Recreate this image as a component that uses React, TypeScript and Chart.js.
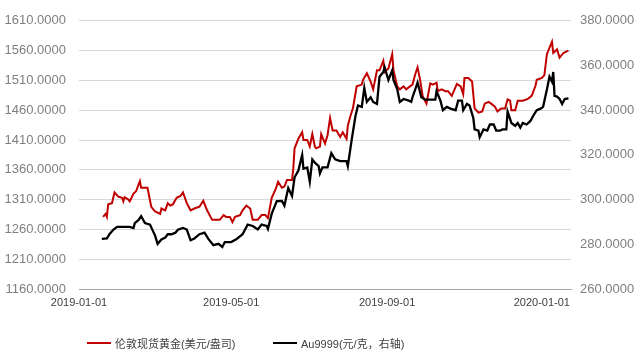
import React, { useEffect, useRef } from "react";
import { Chart, registerables } from "chart.js";

Chart.register(...registerables);

// ---- data ----
const redLabel = "伦敦现货黄金(美元/盎司)";
const blackLabel = "Au9999(元/克，右轴)";

const redDates = [
  "2019-01-20","2019-01-22","2019-01-23","2019-01-24","2019-01-27","2019-01-29","2019-02-01","2019-02-04","2019-02-05","2019-02-06",
  "2019-02-09","2019-02-10","2019-02-13","2019-02-15","2019-02-18","2019-02-19","2019-02-21","2019-02-24","2019-02-27","2019-03-02",
  "2019-03-06","2019-03-07","2019-03-10","2019-03-12","2019-03-14","2019-03-16","2019-03-19","2019-03-22","2019-03-24","2019-03-27",
  "2019-03-30","2019-04-02","2019-04-06","2019-04-09","2019-04-12","2019-04-16","2019-04-22","2019-04-25","2019-04-27","2019-04-30",
  "2019-05-02","2019-05-04","2019-05-08","2019-05-10","2019-05-13","2019-05-16","2019-05-18","2019-05-22","2019-05-25","2019-05-28",
  "2019-05-30","2019-06-02","2019-06-05","2019-06-07","2019-06-10","2019-06-12","2019-06-14","2019-06-18","2019-06-19","2019-06-20",
  "2019-06-23","2019-06-26","2019-06-27","2019-06-30","2019-07-02","2019-07-04","2019-07-06","2019-07-07","2019-07-10","2019-07-11",
  "2019-07-14","2019-07-16","2019-07-18","2019-07-20","2019-07-23","2019-07-26","2019-07-28","2019-07-31","2019-08-01","2019-08-03",
  "2019-08-05","2019-08-08","2019-08-12","2019-08-13","2019-08-16","2019-08-19","2019-08-21","2019-08-24","2019-08-26","2019-08-29",
  "2019-08-30","2019-09-02","2019-09-05","2019-09-06","2019-09-09","2019-09-11","2019-09-14","2019-09-16","2019-09-19","2019-09-21",
  "2019-09-23","2019-09-25","2019-09-27","2019-09-29","2019-10-02","2019-10-05","2019-10-07","2019-10-10","2019-10-11","2019-10-14",
  "2019-10-17","2019-10-19","2019-10-22","2019-10-26","2019-10-29","2019-10-31","2019-11-01","2019-11-04","2019-11-07","2019-11-09",
  "2019-11-12","2019-11-15","2019-11-17","2019-11-20","2019-11-22","2019-11-25","2019-11-27","2019-11-30","2019-12-03","2019-12-05",
  "2019-12-07","2019-12-08","2019-12-11","2019-12-13","2019-12-17","2019-12-21","2019-12-24","2019-12-27","2019-12-28","2020-01-01",
  "2020-01-03","2020-01-05","2020-01-09","2020-01-10","2020-01-13","2020-01-15","2020-01-18","2020-01-21","2020-01-22",
];
const redValues = [
  1281,1286,1281,1302,1304,1322,1315,1313,1307,1314,
  1310,1307,1320,1324,1341,1330,1330,1330,1298,1290,
  1286,1295,1292,1304,1300,1302,1313,1316,1322,1304,
  1292,1295,1298,1308,1292,1276,1276,1284,1281,1281,
  1272,1281,1284,1292,1300,1295,1276,1276,1284,1284,
  1279,1313,1327,1340,1330,1332,1343,1343,1362,1396,
  1412,1423,1410,1410,1399,1420,1399,1396,1399,1420,
  1404,1418,1447,1426,1426,1415,1423,1412,1434,1450,
  1463,1500,1503,1511,1522,1508,1495,1527,1527,1543,
  1524,1530,1554,1527,1500,1495,1500,1495,1500,1503,
  1519,1532,1511,1484,1471,1505,1503,1506,1492,1495,
  1492,1492,1484,1504,1500,1487,1514,1514,1508,1463,
  1456,1458,1471,1474,1471,1466,1458,1463,1463,1478,
  1476,1460,1460,1476,1476,1479,1484,1501,1511,1514,
  1519,1554,1575,1556,1562,1548,1556,1559,1560,
];

const blackDates = [
  "2019-01-19","2019-01-23","2019-01-25","2019-01-28","2019-01-31","2019-02-05","2019-02-10","2019-02-13","2019-02-14","2019-02-17",
  "2019-02-19","2019-02-22","2019-02-26","2019-03-02","2019-03-04","2019-03-07","2019-03-10","2019-03-12","2019-03-15","2019-03-18",
  "2019-03-20","2019-03-24","2019-03-27","2019-03-30","2019-04-02","2019-04-06","2019-04-10","2019-04-13","2019-04-17","2019-04-21",
  "2019-04-24","2019-04-26","2019-05-01","2019-05-05","2019-05-10","2019-05-14","2019-05-18","2019-05-22","2019-05-25","2019-05-29",
  "2019-05-30","2019-06-02","2019-06-06","2019-06-10","2019-06-12","2019-06-15","2019-06-18","2019-06-20","2019-06-23","2019-06-26",
  "2019-06-27","2019-06-30","2019-07-02","2019-07-04","2019-07-06","2019-07-09","2019-07-10","2019-07-12","2019-07-16","2019-07-19",
  "2019-07-22","2019-07-26","2019-07-31","2019-08-01","2019-08-04","2019-08-07","2019-08-09","2019-08-12","2019-08-14","2019-08-16",
  "2019-08-19","2019-08-21","2019-08-24","2019-08-26","2019-08-29","2019-08-30","2019-09-02","2019-09-05","2019-09-06","2019-09-09",
  "2019-09-11","2019-09-14","2019-09-18","2019-09-20","2019-09-21","2019-09-24","2019-09-25","2019-09-28","2019-10-01","2019-10-05",
  "2019-10-09","2019-10-10","2019-10-13","2019-10-15","2019-10-18","2019-10-21","2019-10-25","2019-10-27","2019-10-30","2019-10-31",
  "2019-11-03","2019-11-05","2019-11-08","2019-11-09","2019-11-12","2019-11-13","2019-11-16","2019-11-19","2019-11-21","2019-11-24",
  "2019-11-26","2019-11-29","2019-12-01","2019-12-04","2019-12-05","2019-12-08","2019-12-11","2019-12-13","2019-12-15","2019-12-17",
  "2019-12-20","2019-12-23","2019-12-25","2019-12-28","2019-12-31","2020-01-02","2020-01-05","2020-01-07","2020-01-09","2020-01-10",
  "2020-01-11","2020-01-13","2020-01-15","2020-01-17","2020-01-19","2020-01-22",
];
const blackValues = [
  282.4,282.6,284.5,286.5,287.8,287.8,287.8,287.3,289.5,290.9,
  292.6,289.5,288.8,283.9,280.2,282.2,283.0,284.5,284.5,285.2,
  286.5,287.3,286.6,281.8,282.6,284.5,285.2,282.4,279.6,280.2,
  278.8,281.0,281.0,282.2,284.5,288.8,288.2,286.6,288.8,288.2,
  286.9,293.7,299.3,299.4,297.3,305.2,301.6,310.0,313.0,320.0,
  313.8,314.4,308.0,318.0,316.5,315.0,311.7,314.4,314.4,320.8,
  318.0,317.2,317.2,315.0,326.6,337.3,342.1,341.5,350.0,343.7,
  345.8,343.7,342.8,355.0,357.1,359.2,353.5,357.8,353.5,349.3,
  343.7,345.0,344.3,343.7,345.8,350.7,352.4,345.8,344.7,344.7,
  344.7,348.5,344.3,340.0,341.5,340.7,340.0,344.3,344.3,340.0,
  342.8,342.1,336.4,331.4,330.9,327.9,331.4,330.9,333.6,333.6,
  330.9,330.9,331.4,331.4,339.4,334.3,333.0,334.3,332.2,334.3,
  333.6,335.2,337.3,340.0,340.7,341.5,349.3,355.0,352.8,357.1,
  346.4,346.1,345.0,342.8,345.0,345.3,
];

const xTickDates = ["2019-01-01", "2019-05-01", "2019-09-01", "2020-01-01"];
const xAxisStart = "2019-01-01";
const xAxisEnd = "2020-01-24";
const leftMin = 1160, leftMax = 1610, leftStep = 50;
const rightMin = 260, rightMax = 380, rightStep = 20;

// ---- helpers ----
const DAY = 86400000;
const toUTC = (s: string) => {
  const [y, m, d] = s.split("-").map(Number);
  return Date.UTC(y, m - 1, d);
};
const ORIGIN = toUTC(xAxisStart);
const toDay = (s: string) => (toUTC(s) - ORIGIN) / DAY;
const fromDay = (n: number) => new Date(ORIGIN + Math.round(n) * DAY).toISOString().slice(0, 10);

const W = 641, H = 353;

export default function App() {
  const ref = useRef<HTMLCanvasElement | null>(null);

  useEffect(() => {
    if (!ref.current) return;
    const chart = new Chart(ref.current, {
      type: "line",
      data: {
        datasets: [
          {
            label: redLabel,
            data: redDates.map((d, i) => ({ x: toDay(d), y: redValues[i] })),
            borderColor: "#c00000",
            backgroundColor: "#c00000",
            borderWidth: 2,
            pointRadius: 0,
            tension: 0,
            yAxisID: "y",
            order: 1,
          },
          {
            label: blackLabel,
            data: blackDates.map((d, i) => ({ x: toDay(d), y: blackValues[i] })),
            borderColor: "#000000",
            backgroundColor: "#000000",
            borderWidth: 2.3,
            pointRadius: 0,
            tension: 0,
            yAxisID: "y1",
            order: 0,
          },
        ],
      },
      options: {
        animation: false,
        responsive: false,
        maintainAspectRatio: false,
        layout: { padding: { top: 8, left: 0, right: 0, bottom: 0 } },
        plugins: { legend: { display: false }, tooltip: { enabled: false } },
        scales: {
          x: {
            type: "linear",
            min: toDay(xAxisStart),
            max: toDay(xAxisEnd),
            afterBuildTicks: (s: any) => {
              s.ticks = xTickDates.map((d) => ({ value: toDay(d) }));
            },
            afterFit: (s: any) => {
              s.height = 64;
            },
            ticks: {
              autoSkip: false,
              maxRotation: 0,
              padding: 7,
              color: "#404040",
              font: { family: "'Liberation Sans'", size: 11 },
              callback: (v: any) => fromDay(Number(v)),
            },
            grid: { display: false, drawTicks: false },
            border: { display: true, color: "#a6a6a6", width: 1 },
          },
          y: {
            position: "left",
            min: leftMin,
            max: leftMax,
            afterFit: (s: any) => {
              s.width = 79;
            },
            ticks: {
              stepSize: leftStep,
              padding: 13,
              color: "#7f7f7f",
              font: { family: "'Liberation Sans'", size: 13 },
              callback: (v: any) => Number(v).toFixed(4),
            },
            grid: { color: "#d9d9d9", drawTicks: false, lineWidth: 1 },
            border: { display: false },
          },
          y1: {
            position: "right",
            min: rightMin,
            max: rightMax,
            afterFit: (s: any) => {
              s.width = 70;
            },
            ticks: {
              stepSize: rightStep,
              padding: 9,
              color: "#7f7f7f",
              font: { family: "'Liberation Sans'", size: 13 },
              callback: (v: any) => Number(v).toFixed(4),
            },
            grid: { display: false, drawTicks: false },
            border: { display: false },
          },
        },
      },
    } as any);
    return () => chart.destroy();
  }, []);

  const legendFont = "11px 'Liberation Sans', 'Noto Sans CJK SC', sans-serif";
  const item = (left: number, color: string, text: string) => (
    <div
      style={{
        position: "absolute",
        left,
        top: 336,
        height: 14,
        display: "flex",
        alignItems: "center",
        font: legendFont,
        color: "#404040",
        whiteSpace: "nowrap",
      }}
    >
      <span style={{ display: "inline-block", width: 24, height: 2, background: color, marginRight: 4 }} />
      <span>{text}</span>
    </div>
  );

  return (
    <div style={{ position: "absolute", left: 0, top: 0, width: W, height: H, background: "#ffffff" }}>
      <canvas ref={ref} width={W} height={H} style={{ display: "block", width: W, height: H }} />
      {item(87, "#c00000", redLabel)}
      {item(273, "#000000", blackLabel)}
    </div>
  );
}
